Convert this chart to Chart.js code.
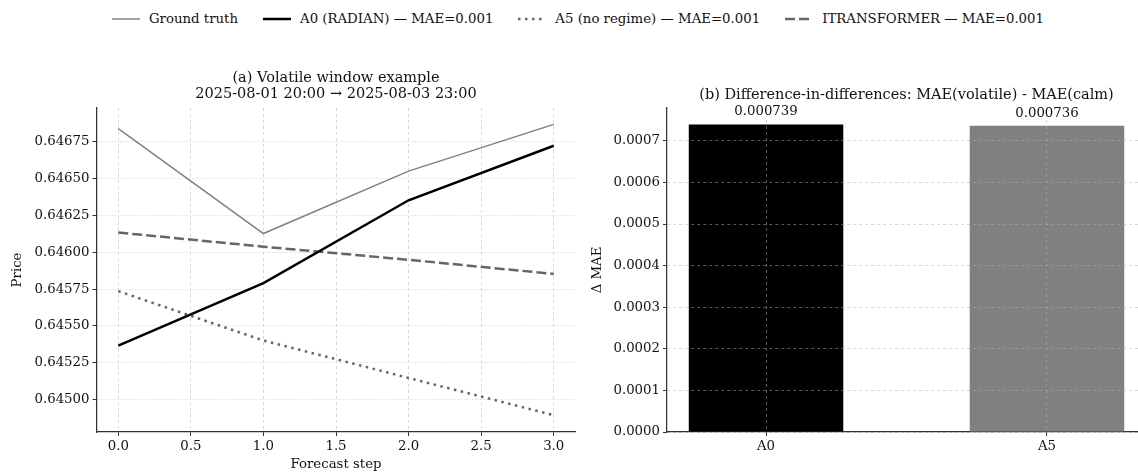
<!DOCTYPE html>
<html>
<head>
<meta charset="utf-8">
<script src="https://cdn.jsdelivr.net/npm/chart.js@4.4.1/dist/chart.umd.min.js"></script>
<style>
  html, body { margin: 0; padding: 0; background: #fff; }
  body { position: relative; width: 1138px; height: 473px; overflow: hidden; font-family: "DejaVu Serif", serif; }
  #legend { position: absolute; top: 11px; left: 0; width: 1156px; display: flex; justify-content: center; align-items: center; font-size: 13.3px; color: #111; white-space: nowrap; }
  #legend .item { display: flex; align-items: center; margin: 0 12.5px; }
  #legend svg { margin-right: 9px; }
  canvas { position: absolute; top: 0; }
  #forecast { left: 0; }
  #did { left: 580px; }
</style>
</head>
<body>
<div id="legend"></div>
<canvas id="forecast" width="600" height="473"></canvas>
<canvas id="did" width="580" height="473"></canvas>
<script>
// Forecast window (horizon of 4 steps)
const steps = [0, 1, 2, 3];
const groundTruth = [0.646840, 0.646127, 0.646551, 0.646868];
const a0Radian = [0.645366, 0.645791, 0.646353, 0.646723];
const a5NoRegime = [0.645736, 0.645401, 0.645147, 0.644894];
const iTransformer = [0.646134, 0.646038, 0.645949, 0.645853];

const seriesNames = [
  "Ground truth",
  "A0 (RADIAN) — MAE=0.001",
  "A5 (no regime) — MAE=0.001",
  "ITRANSFORMER — MAE=0.001"
];
const seriesColors = ["#808080", "#000000", "#666666", "#666666"];
const seriesWidths = [1.5, 2.5, 2.5, 2.5];
const seriesDashes = [[], [], [2.5, 4.5], [10, 4]];

const priceTicks = [0.645, 0.64525, 0.6455, 0.64575, 0.646, 0.64625, 0.6465, 0.64675];
const stepTicks = [0, 0.5, 1, 1.5, 2, 2.5, 3];

// Difference-in-differences bars
const didModels = ["A0", "A5"];
const didValues = [0.000739, 0.000736];
const didColors = ["#000000", "#808080"];
const didTicks = [0, 0.0001, 0.0002, 0.0003, 0.0004, 0.0005, 0.0006, 0.0007];

const FONT = "'DejaVu Serif', serif";
const TXT = "#111";
Chart.defaults.font.family = FONT;
Chart.defaults.font.size = 13.3;
Chart.defaults.color = TXT;
Chart.defaults.animation = false;

// legend shared by both panels
const legend = document.getElementById("legend");
seriesNames.forEach((name, i) => {
  const item = document.createElement("div");
  item.className = "item";
  const svgNS = "http://www.w3.org/2000/svg";
  const svg = document.createElementNS(svgNS, "svg");
  svg.setAttribute("width", "28");
  svg.setAttribute("height", "10");
  const ln = document.createElementNS(svgNS, "line");
  ln.setAttribute("x1", "0"); ln.setAttribute("x2", "28");
  ln.setAttribute("y1", "5"); ln.setAttribute("y2", "5");
  ln.setAttribute("stroke", seriesColors[i]);
  ln.setAttribute("stroke-width", seriesWidths[i]);
  if (seriesDashes[i].length) ln.setAttribute("stroke-dasharray", seriesDashes[i].join(" "));
  svg.appendChild(ln);
  const label = document.createElement("span");
  label.textContent = name;
  item.appendChild(svg);
  item.appendChild(label);
  legend.appendChild(item);
});

const seriesData = [groundTruth, a0Radian, a5NoRegime, iTransformer];

const titleFont = { size: 14.5, weight: "normal", lineHeight: 1.1 };

const ctx1 = document.getElementById("forecast").getContext("2d");
const forecastChart = new Chart(ctx1, {
  type: "line",
  data: {
    datasets: seriesData.map((vals, i) => ({
      label: seriesNames[i],
      data: steps.map((s, j) => ({ x: s, y: vals[j] })),
      borderColor: seriesColors[i],
      borderWidth: seriesWidths[i],
      borderDash: seriesDashes[i],
      pointRadius: 0,
      tension: 0,
      fill: false
    }))
  },
  options: {
    responsive: false,
    layout: { padding: { left: 0, right: 24.5, top: 0, bottom: 0 } },
    plugins: {
      legend: { display: false },
      tooltip: { enabled: false },
      title: {
        display: true,
        fullSize: false,
        text: ["(a) Volatile window example", "2025-08-01 20:00 → 2025-08-03 23:00"],
        font: titleFont,
        color: TXT,
        padding: { top: 70.3, bottom: 5.7 }
      }
    },
    scales: {
      x: {
        type: "linear",
        min: -0.15,
        max: 3.15,
        afterBuildTicks: (s) => { s.ticks = stepTicks.map(v => ({ value: v })); },
        afterFit: (s) => { s.height = 41; },
        ticks: { callback: (v) => Number(v).toFixed(1), padding: 3, maxRotation: 0 },
        grid: { color: "#d8d8d8", tickColor: "#333", tickLength: 4, tickBorderDash: [] },
        border: { color: "#333", width: 1.25, dash: [3, 3] },
        title: { display: true, text: "Forecast step", padding: { top: 0, bottom: 0 } }
      },
      y: {
        type: "linear",
        min: 0.64478,
        max: 0.64698,
        afterBuildTicks: (s) => { s.ticks = priceTicks.map(v => ({ value: v })); },
        afterFit: (s) => { s.width = 96.5; },
        ticks: { callback: (v) => Number(v).toFixed(5), padding: 3 },
        grid: { color: "#d8d8d8", tickColor: "#333", tickLength: 4, tickBorderDash: [] },
        border: { color: "#333", width: 1.25, dash: [1, 1.5] },
        title: { display: true, text: "Price", padding: { top: 10, bottom: 0 } }
      }
    }
  }
});

// grid shows through the bars; value label above each bar
const barOverlay = {
  id: "barOverlay",
  afterDatasetsDraw(chart) {
    const ctx = chart.ctx;
    const meta = chart.getDatasetMeta(0);
    meta.data.forEach((bar) => {
      ctx.save();
      ctx.beginPath();
      ctx.rect(bar.x - bar.width / 2, bar.y, bar.width, bar.base - bar.y);
      ctx.clip();
      chart.scales.x.drawGrid(chart.chartArea);
      chart.scales.y.drawGrid(chart.chartArea);
      ctx.restore();
    });
    ctx.save();
    ctx.font = "13.3px " + FONT;
    ctx.fillStyle = TXT;
    ctx.textAlign = "center";
    ctx.textBaseline = "bottom";
    meta.data.forEach((bar, i) => {
      ctx.fillText(didValues[i].toFixed(6), bar.x, bar.y - 6);
    });
    ctx.restore();
  }
};

const barGrid = { color: "rgba(176,176,176,0.5)", tickColor: "#333", tickLength: 4, tickBorderDash: [] };

const ctx2 = document.getElementById("did").getContext("2d");
const didChart = new Chart(ctx2, {
  type: "bar",
  data: {
    datasets: [{
      data: didModels.map((m, i) => ({ x: i, y: didValues[i] })),
      backgroundColor: didColors,
      borderWidth: 0,
      categoryPercentage: 1,
      barPercentage: 0.55
    }]
  },
  options: {
    responsive: false,
    layout: { padding: { left: 0, right: 14, top: 0, bottom: 0 } },
    plugins: {
      legend: { display: false },
      tooltip: { enabled: false },
      title: {
        display: true,
        fullSize: false,
        text: "(b) Difference-in-differences: MAE(volatile) - MAE(calm)",
        font: titleFont,
        color: TXT,
        padding: { top: 87, bottom: 5 }
      }
    },
    scales: {
      x: {
        type: "linear",
        offset: false,
        min: -0.3525,
        max: 1.3525,
        afterBuildTicks: (s) => { s.ticks = didModels.map((m, i) => ({ value: i })); },
        afterFit: (s) => { s.height = 41; },
        ticks: { callback: (v) => didModels[v], padding: 3, maxRotation: 0 },
        grid: Object.assign({ offset: false }, barGrid),
        border: { color: "#333", width: 1.25, dash: [3, 3] }
      },
      y: {
        type: "linear",
        min: 0,
        max: 0.000779,
        afterBuildTicks: (s) => { s.ticks = didTicks.map(v => ({ value: v })); },
        afterFit: (s) => { s.width = 87; },
        ticks: { callback: (v) => Number(v).toFixed(4), padding: 3 },
        grid: barGrid,
        border: { color: "#333", width: 1.25, dash: [3, 3] },
        title: { display: true, text: "Δ MAE", padding: { top: 10, bottom: 0 } }
      }
    }
  },
  plugins: [barOverlay]
});
</script>
</body>
</html>
